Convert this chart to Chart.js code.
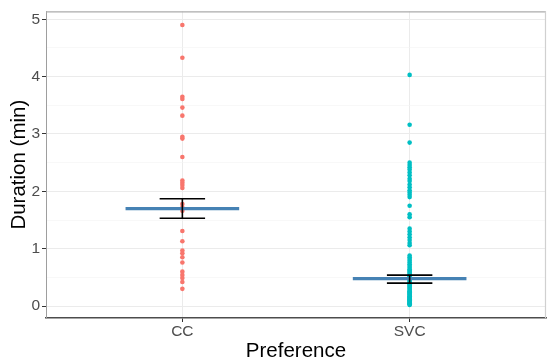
<!DOCTYPE html>
<html>
<head>
<meta charset="utf-8">
<script src="https://cdn.jsdelivr.net/npm/chart.js"></script>
<style>
  body { margin: 0; background: #fff; }
  #c { display: block; }
</style>
</head>
<body>
<canvas id="c" width="547" height="358"></canvas>
<script>
// categories and colours
const categories = ["CC", "SVC"];
const pointColors = ["#F8766D", "#00BFC4"];

// raw durations (min)
const ccValues = [4.90, 4.33, 3.65, 3.61, 3.46, 3.32, 2.95, 2.92, 2.60, 2.19, 2.15, 2.11, 2.06,
  1.78, 1.72, 1.66, 1.31, 1.13, 0.97, 0.92, 0.85, 0.76, 0.60, 0.54, 0.49, 0.42, 0.30];
const svcValues = [4.03, 3.16, 2.85, 2.50, 2.46, 2.42, 2.38, 2.33, 2.28, 2.22, 2.18, 2.12, 2.07,
  2.02, 1.98, 1.94, 1.90, 1.75, 1.60, 1.55, 1.35, 1.30, 1.25, 1.20, 1.15, 1.10, 1.06,
  0.88, 0.85, 0.82, 0.79, 0.76, 0.73, 0.70, 0.67, 0.64, 0.62, 0.60, 0.58, 0.56, 0.54,
  0.52, 0.50, 0.48, 0.46, 0.44, 0.42, 0.40, 0.38, 0.36, 0.34, 0.32, 0.30, 0.28, 0.26,
  0.25, 0.24, 0.22, 0.21, 0.20, 0.18, 0.17, 0.16, 0.15, 0.14, 0.13, 0.12, 0.11, 0.10,
  0.09, 0.08, 0.07, 0.06, 0.05, 0.04, 0.03, 0.02];

// summary: mean and error bar limits
const means = [1.70, 0.48];
const errLow = [1.53, 0.40];
const errHigh = [1.87, 0.54];

const meanHalfWidth = 0.25;
const capHalfWidth = 0.1;

const pointSets = [ccValues, svcValues].map((vals, i) => ({
  type: "scatter",
  data: vals.map(v => ({ x: i + 1, y: v })),
  pointRadius: 2.3,
  pointBackgroundColor: pointColors[i],
  pointBorderWidth: 0,
  order: 3
}));

// mean bars
const meanData = [];
means.forEach((m, i) => {
  meanData.push({ x: i + 1 - meanHalfWidth, y: m }, { x: i + 1 + meanHalfWidth, y: m }, { x: i + 1, y: null });
});

// error bars: whisker + two caps
const errData = [];
errLow.forEach((lo, i) => {
  const hi = errHigh[i], c = i + 1;
  errData.push({ x: c - capHalfWidth, y: hi }, { x: c + capHalfWidth, y: hi }, { x: c, y: null });
  errData.push({ x: c - capHalfWidth, y: lo }, { x: c + capHalfWidth, y: lo }, { x: c, y: null });
  errData.push({ x: c, y: lo }, { x: c, y: hi }, { x: c, y: null });
});

const panelBorder = {
  id: "panelBorder",
  afterDatasetsDraw(chart) {
    const a = chart.chartArea, ctx = chart.ctx;
    ctx.save();
    ctx.lineWidth = 1.2;
    ctx.strokeStyle = "#ABABAB";
    ctx.beginPath();
    ctx.moveTo(a.left, a.top + 0.5);
    ctx.lineTo(a.right, a.top + 0.5);
    ctx.stroke();
    ctx.strokeStyle = "#D0D0D0";
    ctx.beginPath();
    ctx.moveTo(a.right - 0.5, a.top);
    ctx.lineTo(a.right - 0.5, a.bottom);
    ctx.stroke();
    ctx.restore();
  }
};

new Chart(document.getElementById("c"), {
  type: "scatter",
  data: {
    datasets: [
      {
        type: "line",
        data: errData,
        borderColor: "#000000",
        borderWidth: 1.6,
        pointRadius: 0,
        spanGaps: false,
        showLine: true,
        order: 1
      },
      {
        type: "line",
        data: meanData,
        borderColor: "#4682B4",
        borderWidth: 3.2,
        pointRadius: 0,
        spanGaps: false,
        showLine: true,
        order: 2
      },
      ...pointSets
    ]
  },
  options: {
    responsive: false,
    animation: false,
    layout: { autoPadding: false, padding: { top: 10, right: 1, left: 0, bottom: 0 } },
    plugins: { legend: { display: false }, tooltip: { enabled: false } },
    scales: {
      x: {
        type: "linear",
        min: 0.4,
        max: 2.6,
        afterBuildTicks: s => { s.ticks = categories.map((c, i) => ({ value: i + 1 })); },
        afterFit: s => { s.height = 40; s.paddingLeft = 0; s.paddingRight = 0; },
        ticks: {
          callback: v => categories[v - 1] || "",
          color: "#4D4D4D",
          font: { family: "Liberation Sans", size: 15.5 },
          padding: 0,
          maxRotation: 0
        },
        grid: { color: "#EBEBEB", lineWidth: 1, tickLength: 4, tickColor: "#333333" },
        border: { color: "#4D4D4D", width: 1.5 },
        title: {
          display: true,
          text: "Preference",
          color: "#000000",
          font: { family: "Liberation Sans", size: 20.5, lineHeight: 0.62 },
          padding: { top: 0, bottom: 0 }
        }
      },
      y: {
        min: -0.208,
        max: 5.139,
        afterFit: s => { s.width = 46; },
        ticks: {
          stepSize: 0.5,
          includeBounds: false,
          callback: v => Number.isInteger(v) ? v : "",
          color: "#4D4D4D",
          font: { family: "Liberation Sans", size: 15.5 },
          padding: 2
        },
        grid: {
          color: c => Number.isInteger(c.tick.value) ? "#EBEBEB" : "#F4F4F4",
          lineWidth: c => Number.isInteger(c.tick.value) ? 1 : 0.6,
          tickLength: 4,
          tickColor: c => Number.isInteger(c.tick.value) ? "#333333" : "rgba(0,0,0,0)"
        },
        border: { color: "#9E9E9E", width: 1 },
        title: {
          display: true,
          text: "Duration (min)",
          color: "#000000",
          font: { family: "Liberation Sans", size: 20.5 },
          padding: { top: 7, bottom: 0 }
        }
      }
    }
  },
  plugins: [panelBorder]
});
</script>
</body>
</html>
